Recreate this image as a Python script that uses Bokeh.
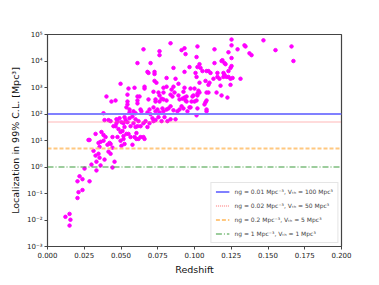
from bokeh.plotting import figure
from bokeh.models import FixedTicker, NumeralTickFormatter
from bokeh.embed import file_html
from bokeh.resources import INLINE

# --- data ---
redshift = [
    0.1252, 0.1252, 0.1020, 0.1136, 0.1469, 0.1340, 0.1347, 0.1660, 0.1293, 0.1551,
    0.1231, 0.1374, 0.1388, 0.1014, 0.1252, 0.1673, 0.1184, 0.1190, 0.1136, 0.1204,
    0.1211, 0.1034, 0.1020, 0.1041, 0.1252, 0.1245, 0.1054, 0.1082, 0.1095, 0.1109,
    0.1007, 0.1231, 0.1197, 0.1204, 0.1156, 0.1156, 0.1170, 0.1014, 0.1197, 0.1218,
    0.1231, 0.1245, 0.1259, 0.1129, 0.1313, 0.1075, 0.1034, 0.1102, 0.1095, 0.1177,
    0.1245, 0.0973, 0.1000, 0.1027, 0.1034, 0.1020, 0.1020, 0.0993, 0.0986, 0.1082,
    0.1095, 0.1150, 0.1184, 0.1224, 0.1014, 0.0980, 0.1000, 0.1082, 0.1075, 0.1068,
    0.0973, 0.1020, 0.1082, 0.1082, 0.1014,
    0.0837, 0.0653, 0.0762, 0.0762, 0.0912, 0.0932, 0.0939, 0.0612, 0.0701, 0.0857,
    0.0680, 0.0687, 0.0728, 0.0728, 0.0932, 0.0966, 0.0728, 0.0810, 0.0741, 0.0871,
    0.0891, 0.0497, 0.0551, 0.0592, 0.0660, 0.0660, 0.0789, 0.0810, 0.0844, 0.0857,
    0.0932, 0.0721, 0.0544, 0.0612, 0.0626, 0.0755, 0.0762, 0.0789, 0.0837, 0.0850,
    0.0864, 0.0925, 0.0932, 0.0946, 0.0401, 0.0463, 0.0435, 0.0544, 0.0612, 0.0612,
    0.0687, 0.0735, 0.0735, 0.0762, 0.0776, 0.0789, 0.0810, 0.0898, 0.0918, 0.0939,
    0.0891, 0.0946,
    0.0381, 0.0558, 0.0558, 0.0585, 0.0599, 0.0633, 0.0639, 0.0680, 0.0694, 0.0701,
    0.0721, 0.0735, 0.0748, 0.0762, 0.0782, 0.0789, 0.0810, 0.0823, 0.0837, 0.0857,
    0.0884, 0.0898, 0.0912, 0.0925, 0.0952, 0.0966, 0.0544, 0.0537,
    0.0388, 0.0429, 0.0449, 0.0469, 0.0476, 0.0490, 0.0503, 0.0524, 0.0531, 0.0524,
    0.0517, 0.0544, 0.0558, 0.0565, 0.0585, 0.0599, 0.0619, 0.0633, 0.0653, 0.0667,
    0.0680, 0.0694, 0.0714, 0.0721, 0.0735, 0.0755, 0.0776, 0.0796, 0.0816, 0.0837,
    0.0871,
    0.0483, 0.0497, 0.0510, 0.0517, 0.0517, 0.0476, 0.0497, 0.0381, 0.0395, 0.0381,
    0.0442, 0.0429, 0.0551, 0.0565, 0.0605, 0.0633, 0.0619, 0.0653, 0.0279, 0.0286,
    0.0347, 0.0354,
    0.0408, 0.0422, 0.0503, 0.0524, 0.0578, 0.0299, 0.0333, 0.0354, 0.0361, 0.0388,
    0.0415, 0.0429, 0.0442, 0.0456, 0.0442, 0.0252, 0.0333, 0.0218, 0.0204, 0.0238,
    0.0286, 0.0238, 0.0211, 0.0204, 0.0150, 0.0122, 0.0156, 0.0150,
    0.0313, 0.0367, 0.0327, 0.0347, 0.0327, 0.0361, 0.0537, 0.0592, 0.0605, 0.0660,
    0.0415, 0.0469, 0.0463, 0.0578, 0.0599, 0.0612,
]

log10_localization = [
    4.81, 4.59, 4.55, 4.44, 4.78, 4.59, 4.55, 4.55, 4.44, 4.41,
    4.33, 4.29, 4.22, 4.15, 4.11, 4.00, 4.00, 4.03, 3.92, 3.92,
    3.88, 3.88, 3.77, 3.74, 3.81, 3.74, 3.62, 3.62, 3.62, 3.55,
    3.55, 3.62, 3.55, 3.48, 3.55, 3.40, 3.33, 3.40, 3.40, 3.40,
    3.40, 3.33, 3.36, 3.33, 3.33, 3.25, 3.18, 3.18, 3.10, 3.07,
    3.10, 2.96, 2.96, 2.88, 2.81, 2.77, 2.70, 2.70, 2.66, 2.81,
    2.81, 2.81, 2.70, 2.62, 2.51, 2.47, 2.47, 2.51, 2.44, 2.36,
    2.25, 2.21, 2.17, 2.10, 1.95,
    4.67, 4.44, 4.37, 4.22, 4.41, 4.48, 4.26, 3.92, 3.92, 3.74,
    3.59, 3.55, 3.59, 3.51, 3.59, 3.77, 3.25, 3.36, 3.18, 3.33,
    3.14, 3.14, 2.96, 2.99, 3.03, 2.96, 2.99, 3.03, 2.92, 3.03,
    2.99, 2.84, 2.73, 2.66, 2.66, 2.81, 2.70, 2.81, 2.73, 2.66,
    2.81, 2.84, 2.62, 2.66, 2.66, 2.51, 2.47, 2.47, 2.51, 2.40,
    2.55, 2.55, 2.47, 2.47, 2.58, 2.55, 2.51, 2.55, 2.58, 2.51,
    2.70, 2.47,
    2.03, 2.17, 2.06, 2.10, 2.03, 2.17, 2.10, 2.06, 2.17, 1.99,
    2.25, 2.10, 2.17, 2.06, 2.21, 2.10, 2.17, 2.21, 2.29, 2.14,
    2.10, 2.17, 2.29, 2.21, 2.10, 2.25, 2.36, 2.25,
    1.77, 1.73, 1.54, 1.80, 1.73, 1.84, 1.69, 1.88, 1.77, 1.51,
    1.65, 1.69, 1.84, 1.54, 1.65, 1.51, 1.73, 1.54, 1.65, 1.73,
    1.51, 1.65, 1.84, 1.73, 1.77, 1.88, 1.73, 1.88, 1.73, 1.80,
    1.80,
    1.43, 1.32, 1.36, 1.17, 1.06, 1.13, 0.99, 1.21, 1.13, 0.99,
    1.13, 0.87, 1.25, 1.13, 1.28, 1.13, 1.06, 1.13, 1.02, 1.02,
    0.91, 0.76,
    0.84, 0.91, 0.80, 0.87, 0.84, 0.09, 0.20, 0.35, 0.06, 0.28,
    0.58, 0.50, 0.73, 0.20, -0.02, -0.06, -0.13, -0.35, -0.54, -0.46,
    -0.54, -0.87, -0.95, -1.17, -1.77, -1.88, -1.99, -2.21,
    0.61, 1.32, 0.43, 0.50, 1.25, 0.95, 1.25, 1.13, 1.06, 1.06,
    1.77, 1.65, 1.54, 1.91, 1.80, 1.54,
]
localization = [10 ** v for v in log10_localization]

threshold_volumes = [100, 50, 5, 1]
threshold_labels = [
    "n\u0261 = 0.01 Mpc\u207b\u00b3, V\u209c\u2095 = 100 Mpc\u00b3",
    "n\u0261 = 0.02 Mpc\u207b\u00b3, V\u209c\u2095 = 50 Mpc\u00b3",
    "n\u0261 = 0.2 Mpc\u207b\u00b3, V\u209c\u2095 = 5 Mpc\u00b3",
    "n\u0261 = 1 Mpc\u207b\u00b3, V\u209c\u2095 = 1 Mpc\u00b3",
]
x_limits = (0.0, 0.2)
y_limits = (1e-3, 1e5)
x_ticks = [0.0, 0.025, 0.05, 0.075, 0.1, 0.125, 0.15, 0.175, 0.2]
y_ticks = [1e-3, 1e-2, 1e-1, 1, 10, 100, 1000, 10000, 100000]
y_tick_labels = ["10\u207b\u00b3", "10\u207b\u00b2", "10\u207b\u00b9", "10\u2070",
                 "10\u00b9", "10\u00b2", "10\u00b3", "10\u2074", "10\u2075"]

p = figure(width=371, height=277, x_range=x_limits, y_range=y_limits,
           y_axis_type="log", output_backend="svg", toolbar_location=None,
           min_border_left=47, min_border_right=30, min_border_top=34,
           min_border_bottom=28)

p.scatter(redshift, localization, size=3.5, color="#ff00ff", line_color="#ff00ff")

styles = [
    dict(line_color="#8080ff", line_width=2, line_dash="solid"),
    dict(line_color="#ff7070", line_width=1.1, line_dash="1 1"),
    dict(line_color="#ffc880", line_width=2, line_dash="4 2"),
    dict(line_color="#3c9c3c", line_width=1.1, line_dash="6 2 1 2"),
]
for v, lab, st in zip(threshold_volumes, threshold_labels, styles):
    p.line(x=list(x_limits), y=[v, v], legend_label=lab, **st)

p.xgrid.grid_line_color = None
p.ygrid.grid_line_color = None
p.outline_line_color = "#444444"
p.outline_line_width = 1.2

p.xaxis.ticker = FixedTicker(ticks=x_ticks)
p.xaxis.formatter = NumeralTickFormatter(format="0.000")
p.yaxis.ticker = FixedTicker(ticks=y_ticks)
p.yaxis.major_label_overrides = {t: l for t, l in zip(y_ticks, y_tick_labels)}

for ax in (p.xaxis[0], p.yaxis[0]):
    ax.major_tick_in = 0
    ax.major_tick_out = 3
    ax.minor_tick_in = 0
    ax.minor_tick_out = 0
    ax.axis_line_color = "#444444"
    ax.major_tick_line_color = "#444444"
    ax.major_label_text_font = "DejaVu Sans"
    ax.major_label_text_font_size = "7px"
    ax.major_label_text_color = "#222222"
    ax.axis_label_text_font = "DejaVu Sans"
    ax.axis_label_text_font_size = "9.5px"
    ax.axis_label_text_font_style = "normal"
    ax.axis_label_text_color = "#111111"
    ax.major_label_standoff = 2
    ax.axis_label_standoff = 3

p.xaxis.axis_label = "Redshift"
p.yaxis.axis_label = "Localization in 99% C.L. [Mpc\u00b3]"

lg = p.legend[0]
lg.location = "bottom_right"
lg.margin = 3
lg.padding = 4
lg.spacing = 5
lg.glyph_width = 14
lg.glyph_height = 9
lg.label_standoff = 5
lg.label_text_font = "DejaVu Sans"
lg.label_text_font_size = "6px"
lg.label_height = 9
lg.border_line_color = "#cccccc"
lg.background_fill_alpha = 0.85

open("out.html", "w").write(file_html(p, INLINE))
